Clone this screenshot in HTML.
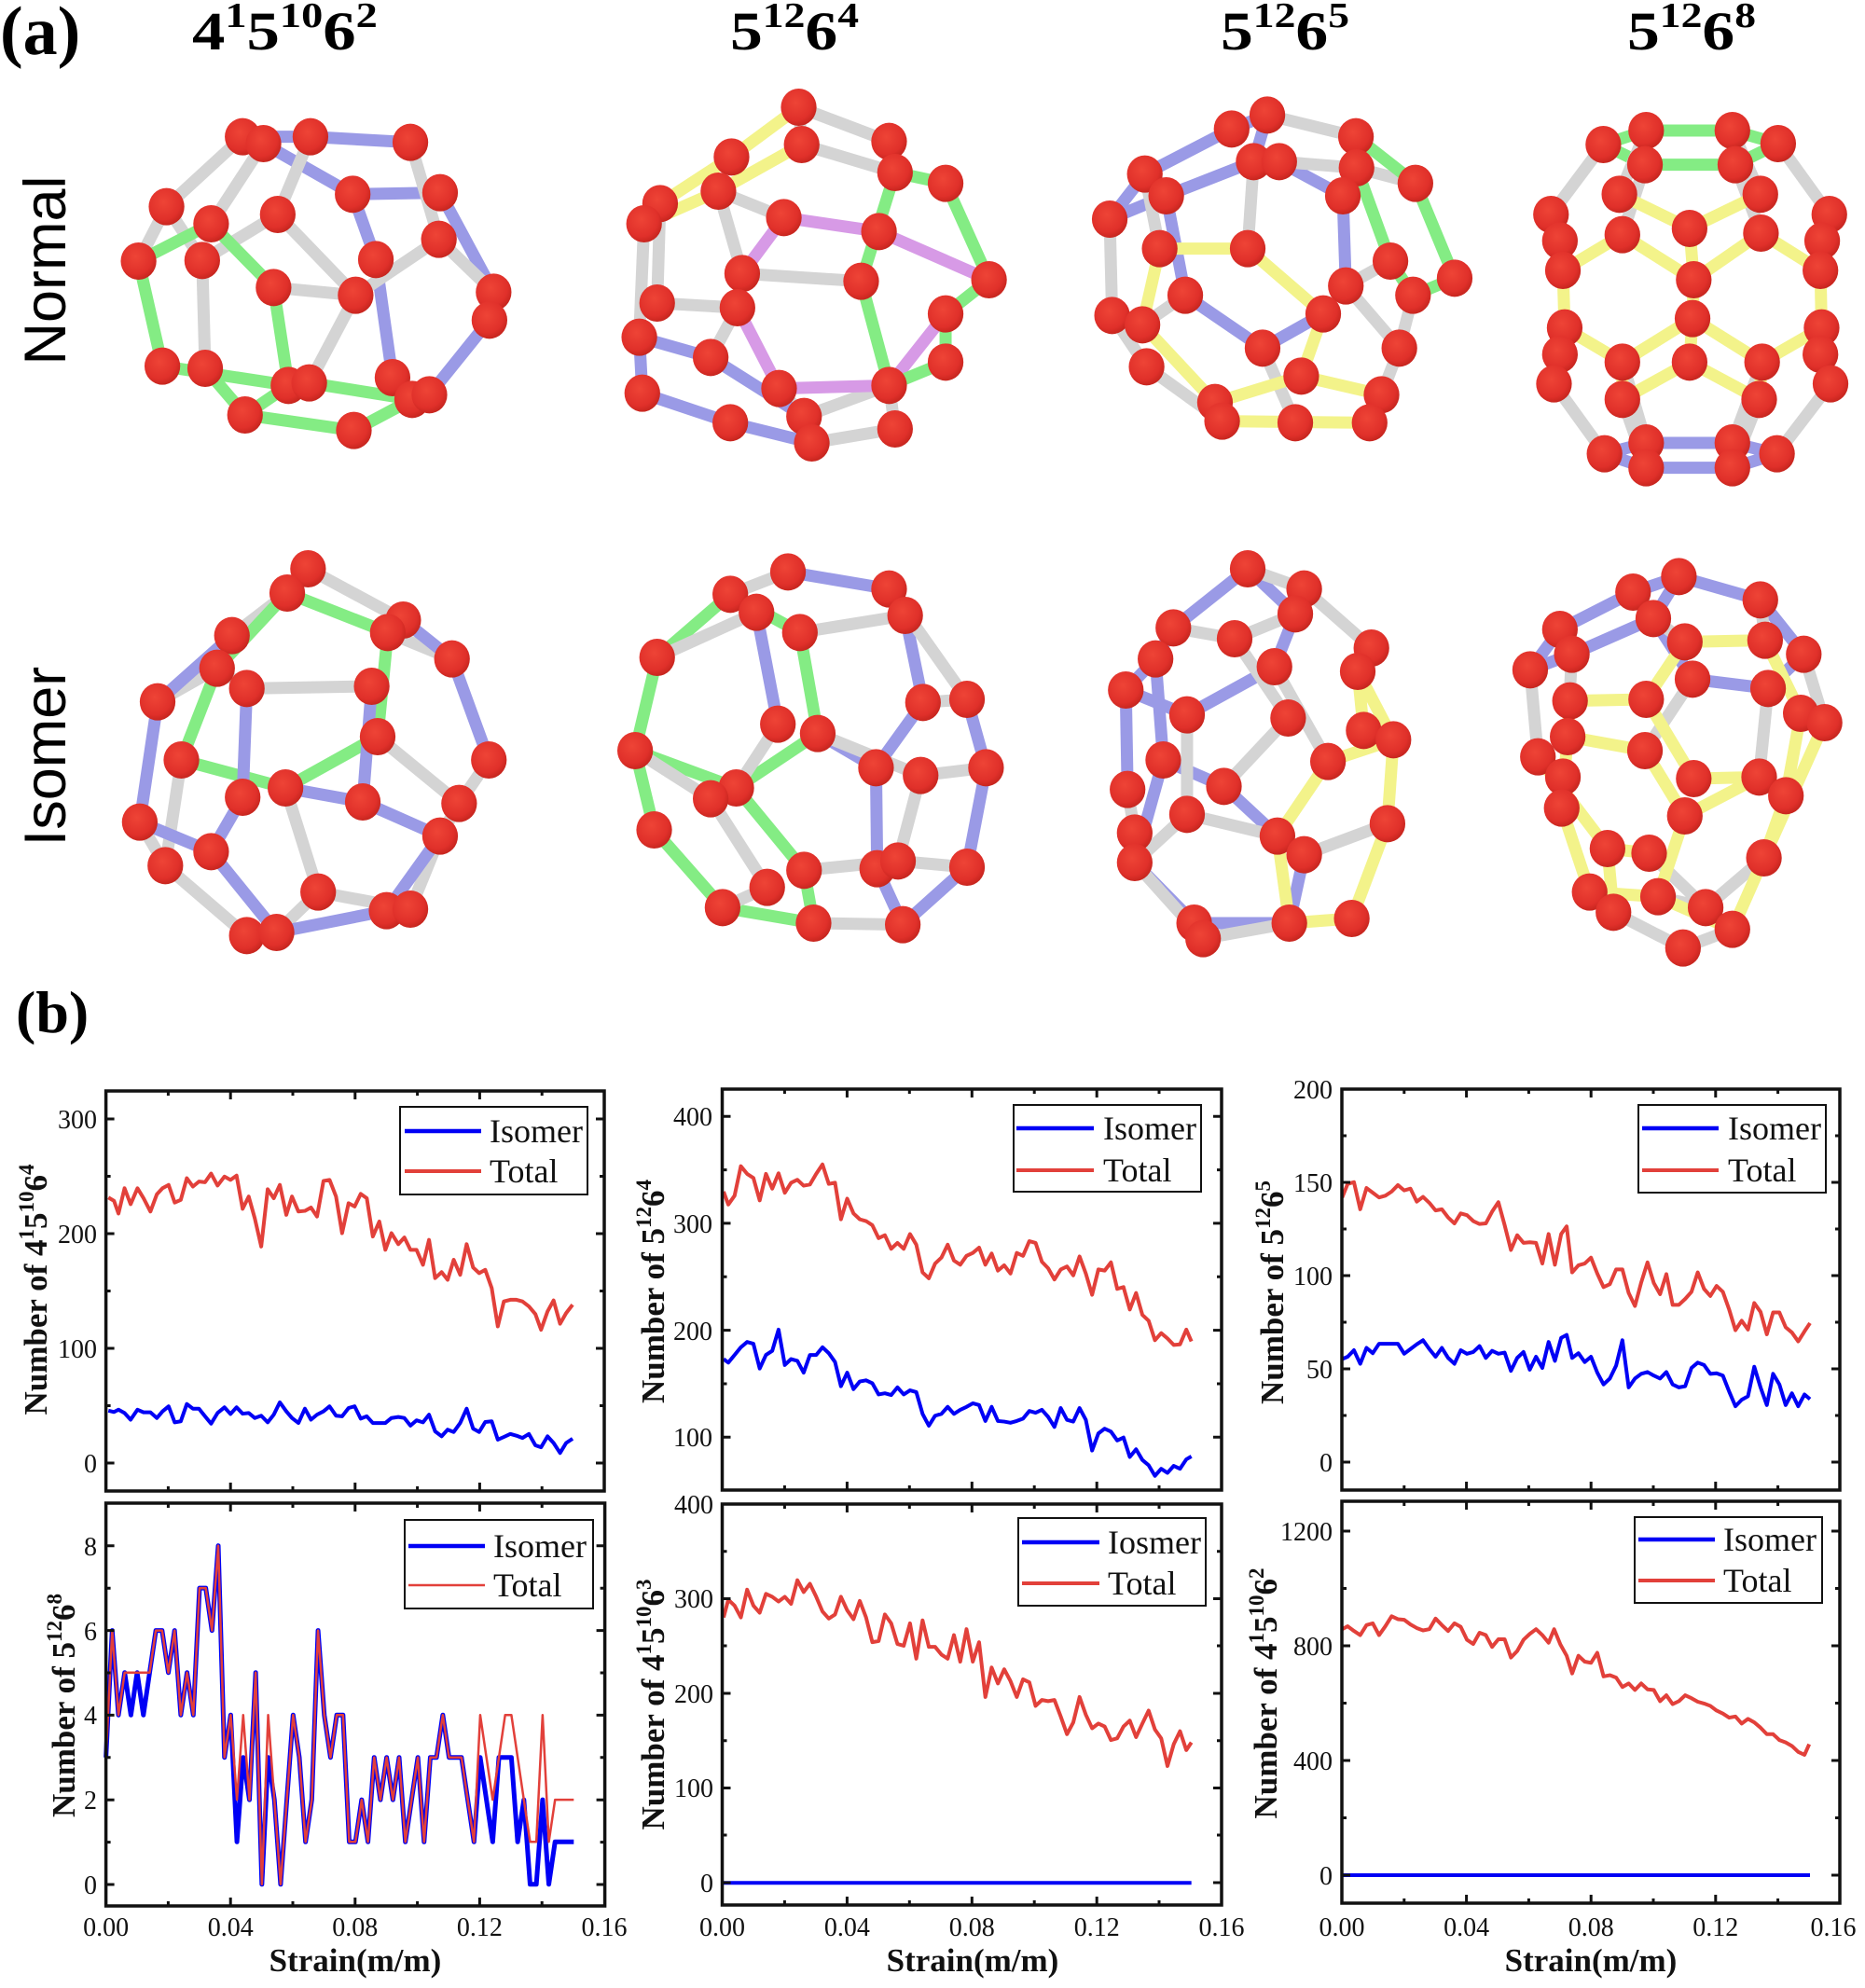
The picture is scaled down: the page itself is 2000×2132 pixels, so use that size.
<!DOCTYPE html>
<html><head><meta charset="utf-8"><style>
html,body{margin:0;padding:0;background:#fff}
svg{display:block}
.b path{fill:none;stroke-linecap:round;stroke-linejoin:round;stroke-width:13px;vector-effect:non-scaling-stroke}
.w path{stroke:#d4d4d4}.bl path{stroke:#9a9ae6}.g path{stroke:#84ec84}.y path{stroke:#f3f38a}.p path{stroke:#d79ae6}
.d polyline{fill:none;stroke-linejoin:round;vector-effect:non-scaling-stroke}
.sr{stroke:#e2403a;stroke-width:4px}.sb{stroke:#0000f5;stroke-width:4px}
.t{font-family:"Liberation Serif",serif;font-size:28px;fill:#111}
.lab{font-family:"Liberation Serif",serif;font-size:35px;font-weight:bold;fill:#111}
.leg{font-family:"Liberation Serif",serif;font-size:36px;fill:#111}
.fr{fill:none;stroke:#111;stroke-width:3.5}
.tk{fill:none;stroke:#111;stroke-width:3}
</style></head><body>
<svg width="2000" height="2132" viewBox="0 0 2000 2132" xmlns="http://www.w3.org/2000/svg">
<defs>
<radialGradient id="ag" cx="0.42" cy="0.38" r="0.62"><stop offset="0" stop-color="#ee4436"/><stop offset="0.75" stop-color="#e0302a"/><stop offset="1" stop-color="#c8261f"/></radialGradient>
<ellipse id="at" cx="0" cy="0" rx="30" ry="60" fill="url(#ag)"/>
</defs>
<rect width="2000" height="2132" fill="#fff"/>

<!-- (a) titles -->
<text x="0" y="58" font-family="Liberation Serif,serif" font-weight="bold" font-size="74">(a)</text>
<g font-family="Liberation Serif,serif" font-weight="bold" font-size="58" fill="#000">
<text transform="translate(206,53) scale(1.22,1)">4<tspan font-size="38" dy="-24">1</tspan><tspan dy="24">5</tspan><tspan font-size="38" dy="-24">10</tspan><tspan dy="24">6</tspan><tspan font-size="38" dy="-24">2</tspan></text>
<text transform="translate(783,53) scale(1.2,1)">5<tspan font-size="38" dy="-24">12</tspan><tspan dy="24">6</tspan><tspan font-size="38" dy="-24">4</tspan></text>
<text transform="translate(1309,53) scale(1.2,1)">5<tspan font-size="38" dy="-24">12</tspan><tspan dy="24">6</tspan><tspan font-size="38" dy="-24">5</tspan></text>
<text transform="translate(1745,53) scale(1.2,1)">5<tspan font-size="38" dy="-24">12</tspan><tspan dy="24">6</tspan><tspan font-size="38" dy="-24">8</tspan></text>
</g>
<text transform="translate(70,290) rotate(-90)" text-anchor="middle" font-family="Liberation Sans,sans-serif" font-size="63">Normal</text>
<text transform="translate(70,811) rotate(-90)" text-anchor="middle" font-family="Liberation Sans,sans-serif" font-size="63">Isomer</text>

<!-- Molecules row 1 left (zoom1 coords) -->
<g transform="translate(0,0) scale(0.63776,0.33333)">
<g class="b bl"><path d="M408 440L522 440M522 440L690 458M443 462L593 625M593 625L740 620M740 620L830 940M593 625L632 835M632 835L660 1215M823 1030L722 1270M660 1215L693 1285"/></g>
<g class="b w"><path d="M408 440L280 665M443 462L355 720M522 440L467 690M690 458L738 770M280 665L233 840M280 665L340 838M340 838L467 690M340 838L345 1185M467 690L598 950M460 925L598 950M738 770L598 950M738 770L830 940M598 950L520 1232M830 940L823 1030"/></g>
<g class="b g"><path d="M233 840L355 720M355 720L460 925M233 840L273 1178M460 925L485 1240M273 1178L485 1240M345 1185L412 1335M485 1240L412 1335M412 1335L595 1385M595 1385L693 1285M520 1232L693 1285"/></g>
<use href="#at" x="408" y="440"/><use href="#at" x="443" y="462"/><use href="#at" x="522" y="440"/><use href="#at" x="690" y="458"/><use href="#at" x="593" y="625"/><use href="#at" x="740" y="620"/><use href="#at" x="280" y="665"/><use href="#at" x="355" y="720"/><use href="#at" x="467" y="690"/><use href="#at" x="738" y="770"/><use href="#at" x="233" y="840"/><use href="#at" x="340" y="838"/><use href="#at" x="632" y="835"/><use href="#at" x="460" y="925"/><use href="#at" x="598" y="950"/><use href="#at" x="830" y="940"/><use href="#at" x="823" y="1030"/><use href="#at" x="273" y="1178"/><use href="#at" x="345" y="1185"/><use href="#at" x="485" y="1240"/><use href="#at" x="520" y="1232"/><use href="#at" x="660" y="1215"/><use href="#at" x="693" y="1285"/><use href="#at" x="722" y="1270"/><use href="#at" x="412" y="1335"/><use href="#at" x="595" y="1385"/>

<g class="b y"><path d="M1343 345L1230 505M1348 465L1208 615M1230 505L1110 655M1208 615L1083 720"/></g>
<g class="b w"><path d="M1343 345L1495 455M1348 465L1505 555M1343 345L1348 465M1208 615L1318 700M1208 615L1248 880M1083 720L1075 1085M1110 655L1105 975M1248 880L1448 905M1105 975L1240 990M1240 990L1195 1150M1310 1250L1352 1340M1352 1340L1495 1240M1365 1425L1505 1380M1505 1380L1495 1240M1495 455L1505 555"/></g>
<g class="b p"><path d="M1318 700L1478 745M1318 700L1248 880M1478 745L1663 900M1240 990L1310 1250M1310 1250L1495 1240M1590 1010L1495 1240"/></g>
<g class="b g"><path d="M1505 555L1590 590M1505 555L1448 905M1448 905L1495 1240M1590 590L1663 900M1590 1010L1590 1165M1495 1240L1590 1165M1663 900L1590 1010"/></g>
<g class="b bl"><path d="M1075 1085L1195 1150M1195 1150L1352 1340M1080 1265L1228 1360M1228 1360L1365 1425M1075 1085L1080 1265"/></g>
<use href="#at" x="1343" y="345"/><use href="#at" x="1348" y="465"/><use href="#at" x="1230" y="505"/><use href="#at" x="1495" y="455"/><use href="#at" x="1505" y="555"/><use href="#at" x="1208" y="615"/><use href="#at" x="1110" y="655"/><use href="#at" x="1083" y="720"/><use href="#at" x="1318" y="700"/><use href="#at" x="1478" y="745"/><use href="#at" x="1590" y="590"/><use href="#at" x="1248" y="880"/><use href="#at" x="1448" y="905"/><use href="#at" x="1105" y="975"/><use href="#at" x="1240" y="990"/><use href="#at" x="1663" y="900"/><use href="#at" x="1075" y="1085"/><use href="#at" x="1195" y="1150"/><use href="#at" x="1590" y="1010"/><use href="#at" x="1080" y="1265"/><use href="#at" x="1310" y="1250"/><use href="#at" x="1495" y="1240"/><use href="#at" x="1590" y="1165"/><use href="#at" x="1228" y="1360"/><use href="#at" x="1352" y="1340"/><use href="#at" x="1365" y="1425"/><use href="#at" x="1505" y="1380"/>
</g>

<!-- Molecules row 1 right (zoom2 coords) -->
<g transform="translate(1000,0) scale(0.63776,0.33333)">
<g class="b bl"><path d="M503 415L563 370M503 415L357 560M540 520L393 630M357 560L298 705M393 630L298 705M583 520L690 630M690 630L695 920M393 630L425 950M425 950L555 1120M555 1120L657 1010M563 370L540 520"/></g>
<g class="b w"><path d="M563 370L712 440M583 520L713 540M713 540L812 590M540 520L530 800M298 705L302 1015M302 1015L360 1180M425 950L353 1045M695 920L770 840M695 920L785 1120M808 950L785 1120M785 1120L755 1270M360 1180L487 1355M555 1120L610 1360M755 1270L735 1360M357 560L382 800"/></g>
<g class="b g"><path d="M712 440L812 590M812 590L878 895M713 540L770 840M878 895L808 950M770 840L808 950"/></g>
<g class="b y"><path d="M382 800L530 800M382 800L353 1045M530 800L657 1010M657 1010L620 1210M620 1210L755 1270M353 1045L475 1295M475 1295L620 1210M487 1355L735 1360"/></g>
<use href="#at" x="563" y="370"/><use href="#at" x="503" y="415"/><use href="#at" x="712" y="440"/><use href="#at" x="540" y="520"/><use href="#at" x="583" y="520"/><use href="#at" x="713" y="540"/><use href="#at" x="357" y="560"/><use href="#at" x="812" y="590"/><use href="#at" x="393" y="630"/><use href="#at" x="690" y="630"/><use href="#at" x="298" y="705"/><use href="#at" x="382" y="800"/><use href="#at" x="530" y="800"/><use href="#at" x="770" y="840"/><use href="#at" x="878" y="895"/><use href="#at" x="425" y="950"/><use href="#at" x="695" y="920"/><use href="#at" x="808" y="950"/><use href="#at" x="302" y="1015"/><use href="#at" x="657" y="1010"/><use href="#at" x="353" y="1045"/><use href="#at" x="555" y="1120"/><use href="#at" x="785" y="1120"/><use href="#at" x="360" y="1180"/><use href="#at" x="620" y="1210"/><use href="#at" x="475" y="1295"/><use href="#at" x="755" y="1270"/><use href="#at" x="487" y="1355"/><use href="#at" x="610" y="1360"/><use href="#at" x="735" y="1360"/>

<g class="b g"><path d="M1128 465L1200 420L1345 420L1422 462L1350 530L1198 530Z"/></g>
<g class="b w"><path d="M1128 465L1040 690M1422 462L1508 690M1198 530L1160 755M1350 530L1393 750M1200 420L1155 625M1345 420L1392 625M1045 1235L1130 1460M1510 1235L1420 1460M1160 1285L1200 1505M1390 1285L1345 1505M1160 1165L1200 1425M1395 1165L1345 1425"/></g>
<g class="b y"><path d="M1155 625L1273 735M1392 625L1273 735M1160 755L1060 870M1160 755L1280 900M1393 750L1280 900M1393 750L1493 870M1040 690L1060 870M1508 690L1493 870M1060 870L1063 1055M1280 900L1278 1025M1493 870L1495 1055M1273 735L1280 900M1063 1055L1160 1165M1278 1025L1160 1165M1278 1025L1395 1165M1495 1055L1395 1165M1063 1055L1045 1235M1495 1055L1510 1235M1160 1165L1160 1285M1273 1165L1160 1285M1273 1165L1390 1285M1395 1165L1390 1285M1278 1025L1273 1165"/></g>
<g class="b bl"><path d="M1130 1460L1200 1425L1345 1425L1420 1460L1345 1505L1200 1505Z"/></g>
<use href="#at" x="1128" y="465"/><use href="#at" x="1200" y="420"/><use href="#at" x="1345" y="420"/><use href="#at" x="1422" y="462"/><use href="#at" x="1198" y="530"/><use href="#at" x="1350" y="530"/><use href="#at" x="1155" y="625"/><use href="#at" x="1392" y="625"/><use href="#at" x="1040" y="690"/><use href="#at" x="1508" y="690"/><use href="#at" x="1055" y="775"/><use href="#at" x="1160" y="755"/><use href="#at" x="1273" y="735"/><use href="#at" x="1393" y="750"/><use href="#at" x="1496" y="775"/><use href="#at" x="1060" y="870"/><use href="#at" x="1280" y="900"/><use href="#at" x="1493" y="870"/><use href="#at" x="1063" y="1055"/><use href="#at" x="1278" y="1025"/><use href="#at" x="1495" y="1055"/><use href="#at" x="1055" y="1140"/><use href="#at" x="1160" y="1165"/><use href="#at" x="1273" y="1165"/><use href="#at" x="1395" y="1165"/><use href="#at" x="1493" y="1140"/><use href="#at" x="1045" y="1235"/><use href="#at" x="1510" y="1235"/><use href="#at" x="1160" y="1285"/><use href="#at" x="1390" y="1285"/><use href="#at" x="1130" y="1460"/><use href="#at" x="1200" y="1425"/><use href="#at" x="1345" y="1425"/><use href="#at" x="1420" y="1460"/><use href="#at" x="1200" y="1505"/><use href="#at" x="1345" y="1505"/>
</g>

<!-- Molecules row 2 left (zoom7 coords) -->
<g transform="translate(0,560) scale(0.63776,0.33333)">
<g class="b w"><path d="M518 150L678 315M518 150L483 228M483 228L390 365M652 355L760 440M415 535L625 528M365 470L265 578M635 690L772 905M822 765L772 905M772 905L740 1010M740 1010L690 1245M305 765L278 1105M235 965L278 1105M278 1105L415 1330M480 855L535 1190M535 1190L465 1320M535 1190L690 1245M365 470L415 535"/></g>
<g class="b g"><path d="M483 228L652 355M483 228L365 470M365 470L305 765M652 355L635 690M305 765L480 855M635 690L480 855"/></g>
<g class="b bl"><path d="M760 440L822 765M678 315L760 440M390 365L265 578M265 578L235 965M415 535L408 885M408 885L355 1060M625 528L610 900M480 855L610 900M610 900L740 1010M235 965L355 1060M355 1060L465 1320M465 1320L650 1250M740 1010L650 1250"/></g>
<use href="#at" x="518" y="150"/><use href="#at" x="483" y="228"/><use href="#at" x="678" y="315"/><use href="#at" x="652" y="355"/><use href="#at" x="390" y="365"/><use href="#at" x="760" y="440"/><use href="#at" x="365" y="470"/><use href="#at" x="415" y="535"/><use href="#at" x="625" y="528"/><use href="#at" x="265" y="578"/><use href="#at" x="635" y="690"/><use href="#at" x="305" y="765"/><use href="#at" x="822" y="765"/><use href="#at" x="480" y="855"/><use href="#at" x="408" y="885"/><use href="#at" x="610" y="900"/><use href="#at" x="772" y="905"/><use href="#at" x="235" y="965"/><use href="#at" x="740" y="1010"/><use href="#at" x="355" y="1060"/><use href="#at" x="278" y="1105"/><use href="#at" x="535" y="1190"/><use href="#at" x="650" y="1250"/><use href="#at" x="690" y="1245"/><use href="#at" x="415" y="1330"/><use href="#at" x="465" y="1320"/>

<g class="b bl"><path d="M1325 160L1495 215M1272 290L1308 650M1522 300L1552 580M1552 580L1473 790M1473 790L1475 1115M1375 680L1473 790M1475 1115L1518 1295M1626 570L1658 790M1658 790L1626 1110M1626 1110L1518 1295"/></g>
<g class="b g"><path d="M1228 232L1345 355M1228 232L1105 435M1345 355L1375 680M1105 435L1068 735M1068 735L1238 855M1375 680L1238 855M1068 735L1100 990M1100 990L1215 1240M1238 855L1352 1120M1352 1120L1368 1290M1215 1240L1368 1290"/></g>
<g class="b w"><path d="M1325 160L1228 232M1345 355L1522 300M1495 215L1522 300M1272 290L1105 435M1068 735L1195 890M1195 890L1290 1175M1308 650L1238 855M1375 680L1548 815M1548 815L1510 1090M1352 1120L1510 1090M1368 1290L1518 1295M1290 1175L1215 1240M1548 815L1658 790M1510 1090L1626 1110M1552 580L1626 570M1495 215L1626 570"/></g>
<use href="#at" x="1325" y="160"/><use href="#at" x="1228" y="232"/><use href="#at" x="1272" y="290"/><use href="#at" x="1495" y="215"/><use href="#at" x="1345" y="355"/><use href="#at" x="1522" y="300"/><use href="#at" x="1105" y="435"/><use href="#at" x="1552" y="580"/><use href="#at" x="1308" y="650"/><use href="#at" x="1375" y="680"/><use href="#at" x="1068" y="735"/><use href="#at" x="1473" y="790"/><use href="#at" x="1548" y="815"/><use href="#at" x="1238" y="855"/><use href="#at" x="1195" y="890"/><use href="#at" x="1100" y="990"/><use href="#at" x="1352" y="1120"/><use href="#at" x="1475" y="1115"/><use href="#at" x="1510" y="1090"/><use href="#at" x="1290" y="1175"/><use href="#at" x="1215" y="1240"/><use href="#at" x="1368" y="1290"/><use href="#at" x="1518" y="1295"/><use href="#at" x="1626" y="570"/><use href="#at" x="1658" y="790"/><use href="#at" x="1626" y="1110"/>
</g>

<!-- Molecules row 2 right (zoom8 coords) -->
<g transform="translate(1000,560) scale(0.63776,0.33333)">
<g class="b bl"><path d="M530 150L405 340M530 150L610 295M610 295L575 465M405 340L375 440M375 440L325 540M325 540L428 620M575 465L428 620M325 540L328 860M375 440L388 765M388 765L340 1095M388 765L490 850M490 850L580 1010M625 1070L600 1290M340 1095L440 1290M440 1290L600 1290"/></g>
<g class="b w"><path d="M530 150L625 215M625 215L738 405M610 295L508 375M508 375L405 340M508 375L598 630M575 465L665 770M428 620L428 940M598 630L490 850M428 940L580 1010M428 940L340 1095M625 1070L765 970M328 860L340 1000M340 1095L455 1340M455 1340L600 1290"/></g>
<g class="b y"><path d="M738 405L715 480M715 480L775 700M715 480L725 670M775 700L665 770M775 700L765 970M665 770L580 1010M580 1010L600 1290M765 970L705 1275M600 1290L705 1275M725 670L775 700"/></g>
<use href="#at" x="530" y="150"/><use href="#at" x="625" y="215"/><use href="#at" x="610" y="295"/><use href="#at" x="405" y="340"/><use href="#at" x="508" y="375"/><use href="#at" x="738" y="405"/><use href="#at" x="375" y="440"/><use href="#at" x="575" y="465"/><use href="#at" x="715" y="480"/><use href="#at" x="325" y="540"/><use href="#at" x="428" y="620"/><use href="#at" x="598" y="630"/><use href="#at" x="725" y="670"/><use href="#at" x="775" y="700"/><use href="#at" x="388" y="765"/><use href="#at" x="665" y="770"/><use href="#at" x="490" y="850"/><use href="#at" x="328" y="860"/><use href="#at" x="428" y="940"/><use href="#at" x="765" y="970"/><use href="#at" x="580" y="1010"/><use href="#at" x="340" y="1000"/><use href="#at" x="625" y="1070"/><use href="#at" x="340" y="1095"/><use href="#at" x="440" y="1290"/><use href="#at" x="600" y="1290"/><use href="#at" x="705" y="1275"/><use href="#at" x="455" y="1340"/>

<g class="b bl"><path d="M1255 175L1178 225M1255 175L1392 250M1178 225L1055 345M1255 175L1212 310M1212 310L1075 425M1055 345L1005 475M1075 425L1005 475M1392 250L1465 425M1212 310L1278 505M1278 505L1405 535M1405 535L1465 425"/></g>
<g class="b w"><path d="M1005 475L1018 755M1075 425L1068 690M1265 385L1212 310M1400 380L1392 250M1465 425L1500 645M1278 505L1198 735M1405 535L1390 820M1398 1080L1300 1240M1145 1255L1262 1370M1262 1370L1345 1310M1220 1205L1300 1240M1205 1065L1300 1240"/></g>
<g class="b y"><path d="M1265 385L1400 380M1265 385L1200 570M1400 380L1460 615M1072 575L1200 570M1068 690L1198 735M1200 570L1280 825M1198 735L1265 945M1280 825L1390 820M1390 820L1265 945M1460 615L1435 880M1500 645L1398 1080M1435 880L1398 1080M1018 755L1060 820M1060 820L1058 920M1068 690L1058 920M1058 920L1105 1190M1018 755L1135 1050M1135 1050L1205 1065M1265 945L1220 1205M1135 1050L1145 1255M1105 1190L1220 1205M1220 1205L1345 1310M1398 1080L1345 1310M1072 575L1068 690"/></g>
<use href="#at" x="1255" y="175"/><use href="#at" x="1178" y="225"/><use href="#at" x="1392" y="250"/><use href="#at" x="1212" y="310"/><use href="#at" x="1055" y="345"/><use href="#at" x="1265" y="385"/><use href="#at" x="1400" y="380"/><use href="#at" x="1075" y="425"/><use href="#at" x="1465" y="425"/><use href="#at" x="1005" y="475"/><use href="#at" x="1278" y="505"/><use href="#at" x="1405" y="535"/><use href="#at" x="1072" y="575"/><use href="#at" x="1200" y="570"/><use href="#at" x="1460" y="615"/><use href="#at" x="1500" y="645"/><use href="#at" x="1068" y="690"/><use href="#at" x="1198" y="735"/><use href="#at" x="1018" y="755"/><use href="#at" x="1280" y="825"/><use href="#at" x="1390" y="820"/><use href="#at" x="1060" y="820"/><use href="#at" x="1435" y="880"/><use href="#at" x="1058" y="920"/><use href="#at" x="1265" y="945"/><use href="#at" x="1135" y="1050"/><use href="#at" x="1205" y="1065"/><use href="#at" x="1398" y="1080"/><use href="#at" x="1105" y="1190"/><use href="#at" x="1220" y="1205"/><use href="#at" x="1145" y="1255"/><use href="#at" x="1300" y="1240"/><use href="#at" x="1345" y="1310"/><use href="#at" x="1262" y="1370"/>
</g>

<!-- (b) -->
<text x="17" y="1107" font-family="Liberation Serif,serif" font-weight="bold" font-size="64">(b)</text>

<!-- ===== Panel LT ===== -->
<g class="d" transform="translate(0,1060) scale(0.43365,0.35714)">
<polyline class="sr" points="268,628 282,638 293,676 308,600 323,648 340,600 355,630 372,670 388,618 402,600 417,590 432,643 447,635 462,570 477,595 492,580 507,582 522,556 538,592 555,565 570,575 585,562 600,662 615,625 630,690 646,775 662,603 677,630 692,590 708,680 722,625 738,670 754,668 769,658 784,685 800,578 815,575 831,625 846,735 862,645 877,655 892,617 907,630 922,745 938,700 953,785 968,735 985,768 1000,748 1015,785 1030,785 1046,830 1061,755 1076,870 1092,852 1107,875 1122,815 1138,860 1154,768 1170,838 1185,855 1200,845 1216,900 1231,1015 1246,940 1262,935 1277,935 1292,940 1308,955 1324,978 1338,1025 1354,970 1369,937 1385,1007 1400,975 1416,950"/>
<polyline class="sb" points="268,1268 282,1272 293,1265 308,1275 323,1295 340,1265 355,1273 372,1273 388,1290 402,1270 417,1255 432,1303 447,1300 462,1248 477,1262 492,1262 507,1285 522,1307 538,1275 555,1258 570,1278 585,1258 600,1277 615,1275 630,1290 646,1283 662,1303 677,1280 692,1243 708,1270 722,1290 738,1305 754,1262 769,1295 784,1280 800,1270 815,1255 831,1283 846,1285 862,1260 877,1255 892,1292 907,1285 922,1305 938,1305 953,1305 968,1290 985,1287 1000,1290 1015,1313 1030,1297 1046,1303 1061,1280 1076,1330 1092,1345 1107,1325 1122,1332 1138,1305 1154,1262 1170,1322 1185,1332 1200,1302 1216,1300 1231,1355 1246,1347 1262,1338 1277,1343 1292,1350 1308,1338 1324,1372 1338,1378 1354,1345 1369,1365 1385,1395 1400,1365 1416,1352"/>
</g>
<rect class="fr" x="113.6" y="1170" width="534.4" height="429"/>
<path class="tk" d="M247.2 1599v-9M380.8 1599v-9M514.4 1599v-9M180.4 1599v-5M314 1599v-5M447.6 1599v-5M581.2 1599v-5M247.2 1170v9M380.8 1170v9M514.4 1170v9M180.4 1170v5M314 1170v5M447.6 1170v5M581.2 1170v5M113.6 1569h9M113.6 1446h9M113.6 1323h9M113.6 1200h9M113.6 1507.5h5M113.6 1384.5h5M113.6 1261.5h5M648 1569h-9M648 1446h-9M648 1323h-9M648 1200h-9M648 1507.5h-5M648 1384.5h-5M648 1261.5h-5"/>
<g class="t" text-anchor="end"><text x="104" y="1579">0</text><text x="104" y="1456">100</text><text x="104" y="1333">200</text><text x="104" y="1210">300</text></g>
<text class="lab" transform="translate(50,1383) rotate(-90)" text-anchor="middle">Number of 4<tspan font-size="23" dy="-14">1</tspan><tspan dy="14">5</tspan><tspan font-size="23" dy="-14">10</tspan><tspan dy="14">6</tspan><tspan font-size="23" dy="-14">4</tspan></text>
<rect x="429" y="1187" width="201" height="94" fill="#fff" stroke="#111" stroke-width="2"/>
<path d="M434 1213H516" stroke="#0000f5" stroke-width="4.5"/><path d="M434 1256H516" stroke="#e2403a" stroke-width="4"/>
<text class="leg" x="525" y="1225">Isomer</text><text class="leg" x="525" y="1268">Total</text>

<!-- ===== Panel LB ===== -->
<g class="d" transform="translate(0,1600) scale(0.43365,0.33933)">
<polyline stroke="#0000f5" stroke-width="5" points="262,839 277.4,438 292.9,705 308.3,571 323.7,705 339.1,571 354.6,705 370,571 385.4,438 400.8,438 416.3,571 431.7,438 447.1,705 462.5,571 478,705 493.4,304 508.8,304 524.2,438 539.7,170 555.1,839 570.5,705 585.9,1106 601.4,839 616.8,973 632.2,571 647.6,1240 663.1,839 678.5,973 693.9,1240 709.3,973 724.8,705 740.2,839 755.6,1106 771,973 786.5,438 801.9,705 817.3,839 832.7,705 848.2,705 863.6,1106 879,1106 894.4,973 909.9,1106 925.3,839 940.7,973 956.1,839 971.6,973 987,839 1002.4,1106 1017.8,973 1033.3,839 1048.7,1106 1064.1,839 1079.5,839 1095,705 1110.4,839 1125.8,839 1141.2,839 1156.7,973 1172.1,1106 1187.5,839 1202.9,973 1218.4,1106 1233.8,839 1249.2,839 1264.6,839 1280.1,1106 1295.5,973 1310.9,1240 1326.3,1240 1341.8,973 1357.2,1240 1372.6,1106 1388,1106 1403.5,1106 1418.9,1106"/>
<polyline stroke="#e2403a" stroke-width="2.5" points="262,839 277.4,438 292.9,705 308.3,571 323.7,571 339.1,571 354.6,571 370,571 385.4,438 400.8,438 416.3,571 431.7,438 447.1,705 462.5,571 478,705 493.4,304 508.8,304 524.2,438 539.7,170 555.1,839 570.5,705 585.9,973 601.4,705 616.8,973 632.2,571 647.6,1240 663.1,705 678.5,973 693.9,1240 709.3,973 724.8,705 740.2,839 755.6,1106 771,973 786.5,438 801.9,705 817.3,839 832.7,705 848.2,705 863.6,1106 879,1106 894.4,973 909.9,1106 925.3,839 940.7,973 956.1,839 971.6,973 987,839 1002.4,1106 1017.8,973 1033.3,839 1048.7,1106 1064.1,839 1079.5,839 1095,705 1110.4,839 1125.8,839 1141.2,839 1156.7,973 1172.1,1106 1187.5,705 1202.9,839 1218.4,973 1233.8,839 1249.2,705 1264.6,705 1280.1,839 1295.5,973 1310.9,1106 1326.3,1106 1341.8,705 1357.2,1106 1372.6,973 1388,973 1403.5,973 1418.9,973"/>
</g>
<rect class="fr" x="113.6" y="1612" width="535" height="432"/>
<path class="tk" d="M247.2 2044v-9M380.8 2044v-9M514.4 2044v-9M180.4 2044v-5M314 2044v-5M447.6 2044v-5M581.2 2044v-5M247.2 1612v9M380.8 1612v9M514.4 1612v9M180.4 1612v5M314 1612v5M447.6 1612v5M581.2 1612v5M113.6 2021h9M113.6 1930.2h9M113.6 1839.4h9M113.6 1748.6h9M113.6 1657.8h9M113.6 1975.6h5M113.6 1884.8h5M113.6 1794h5M113.6 1703.2h5M648.6 2021h-9M648.6 1930.2h-9M648.6 1839.4h-9M648.6 1748.6h-9M648.6 1657.8h-9M648.6 1975.6h-5M648.6 1884.8h-5M648.6 1794h-5M648.6 1703.2h-5"/>
<g class="t" text-anchor="end"><text x="104" y="2031">0</text><text x="104" y="1940">2</text><text x="104" y="1849">4</text><text x="104" y="1759">6</text><text x="104" y="1668">8</text></g>
<g class="t" text-anchor="middle"><text x="113.6" y="2076">0.00</text><text x="247.2" y="2076">0.04</text><text x="380.8" y="2076">0.08</text><text x="514.4" y="2076">0.12</text><text x="648" y="2076">0.16</text></g>
<text class="lab" x="381" y="2114" text-anchor="middle">Strain(m/m)</text>
<text class="lab" transform="translate(80,1829) rotate(-90)" text-anchor="middle">Number of 5<tspan font-size="23" dy="-14">12</tspan><tspan dy="14">6</tspan><tspan font-size="23" dy="-14">8</tspan></text>
<rect x="434" y="1630" width="202" height="95" fill="#fff" stroke="#111" stroke-width="2"/>
<path d="M438 1658H520" stroke="#0000f5" stroke-width="4.5"/><path d="M438 1700H520" stroke="#e2403a" stroke-width="2.5"/>
<text class="leg" x="529" y="1670">Isomer</text><text class="leg" x="529" y="1712">Total</text>

<!-- ===== Panel MT ===== -->
<g class="d" transform="translate(680,1140) scale(0.42088,0.63251)">
<polyline class="sr" points="228,218 240,240 256,225 272,175 288,188 304,195 320,233 336,188 352,213 368,187 384,220 400,203 416,198 432,208 448,206 464,188 480,172 496,205 512,203 527,265 543,230 559,255 575,265 591,268 607,275 623,297 639,292 655,315 671,305 687,315 703,290 719,308 735,355 751,365 767,340 783,330 799,308 815,335 831,342 847,327 863,322 879,313 895,342 911,323 927,352 943,343 959,357 975,322 991,327 1007,302 1023,305 1039,337 1055,348 1071,367 1087,350 1103,345 1119,360 1135,328 1151,357 1167,393 1183,350 1199,352 1215,338 1231,383 1247,380 1263,418 1279,390 1295,427 1311,437 1327,470 1343,458 1359,467 1375,478 1391,477 1407,452 1420,472"/>
<polyline class="sb" points="228,502 240,508 256,495 272,482 288,473 304,476 320,518 336,495 352,488 368,452 384,512 400,502 416,505 432,525 448,495 464,495 480,482 496,492 512,507 527,548 543,525 559,553 575,540 591,538 607,543 623,562 639,560 655,563 671,550 687,562 703,555 719,558 735,595 751,615 767,598 783,595 799,583 815,595 831,588 847,583 863,577 879,580 895,607 911,583 927,607 943,608 959,610 975,607 991,603 1007,590 1023,593 1039,588 1055,600 1071,617 1087,585 1103,605 1119,608 1135,585 1151,605 1167,657 1183,628 1199,620 1215,625 1231,640 1247,635 1263,668 1279,655 1295,673 1311,682 1327,700 1343,688 1359,695 1375,683 1391,688 1407,672 1420,667"/>
</g>
<rect class="fr" x="774.5" y="1168" width="535.5" height="430"/>
<path class="tk" d="M908.4 1598v-9M1042.3 1598v-9M1176.2 1598v-9M841.4 1598v-5M975.3 1598v-5M1109.2 1598v-5M1243 1598v-5M908.4 1168v9M1042.3 1168v9M1176.2 1168v9M841.4 1168v5M975.3 1168v5M1109.2 1168v5M1243 1168v5M774.5 1541.3h9M774.5 1426.6h9M774.5 1311.9h9M774.5 1197.2h9M774.5 1484h5M774.5 1369.3h5M774.5 1254.6h5M1310 1541.3h-9M1310 1426.6h-9M1310 1311.9h-9M1310 1197.2h-9M1310 1484h-5M1310 1369.3h-5M1310 1254.6h-5"/>
<g class="t" text-anchor="end"><text x="764" y="1551">100</text><text x="764" y="1437">200</text><text x="764" y="1322">300</text><text x="764" y="1207">400</text></g>
<text class="lab" transform="translate(712,1385) rotate(-90)" text-anchor="middle">Number of 5<tspan font-size="23" dy="-14">12</tspan><tspan dy="14">6</tspan><tspan font-size="23" dy="-14">4</tspan></text>
<rect x="1087" y="1185" width="201" height="93" fill="#fff" stroke="#111" stroke-width="2"/>
<path d="M1090 1210H1173" stroke="#0000f5" stroke-width="4.5"/><path d="M1090 1255H1173" stroke="#e2403a" stroke-width="4"/>
<text class="leg" x="1183" y="1222">Isomer</text><text class="leg" x="1183" y="1267">Total</text>

<!-- ===== Panel MB ===== -->
<g class="d" transform="translate(680,1140) scale(0.42088,0.63251)">
<polyline class="sr" points="228,940 240,910 256,920 272,940 288,893 304,920 320,932 336,900 352,905 368,913 384,905 400,917 416,877 432,897 448,883 464,905 480,930 496,942 512,935 527,905 543,928 559,943 575,912 591,940 607,982 623,980 639,935 655,950 671,985 687,988 703,950 719,1010 735,945 751,990 767,990 783,1003 799,1010 815,970 831,1015 847,960 863,1015 879,982 895,1075 911,1025 927,1052 943,1028 959,1048 975,1075 991,1045 1007,1050 1023,1090 1039,1080 1055,1082 1071,1080 1087,1108 1103,1138 1119,1118 1135,1075 1151,1105 1167,1128 1183,1120 1199,1125 1215,1148 1231,1145 1247,1125 1263,1115 1279,1143 1295,1120 1311,1098 1327,1130 1343,1145 1359,1192 1375,1155 1391,1133 1407,1165 1420,1152"/>
<polyline class="sb" points="228,1390 1420,1390"/>
</g>
<rect class="fr" x="774.5" y="1613" width="535.5" height="430"/>
<path class="tk" d="M908.4 2043v-9M1042.3 2043v-9M1176.2 2043v-9M841.4 2043v-5M975.3 2043v-5M1109.2 2043v-5M1243 2043v-5M908.4 1613v9M1042.3 1613v9M1176.2 1613v9M841.4 1613v5M975.3 1613v5M1109.2 1613v5M1243 1613v5M774.5 2019h9M774.5 1917.5h9M774.5 1816h9M774.5 1714.5h9M774.5 1968h5M774.5 1866.8h5M774.5 1765h5M774.5 1663.8h5M1310 2019h-9M1310 1917.5h-9M1310 1816h-9M1310 1714.5h-9M1310 1968h-5M1310 1866.8h-5M1310 1765h-5M1310 1663.8h-5"/>
<g class="t" text-anchor="end"><text x="765" y="2029">0</text><text x="765" y="1927">100</text><text x="765" y="1826">200</text><text x="765" y="1724">300</text><text x="765" y="1623">400</text></g>
<g class="t" text-anchor="middle"><text x="774.5" y="2076">0.00</text><text x="908.4" y="2076">0.04</text><text x="1042.3" y="2076">0.08</text><text x="1176.2" y="2076">0.12</text><text x="1310" y="2076">0.16</text></g>
<text class="lab" x="1043" y="2114" text-anchor="middle">Strain(m/m)</text>
<text class="lab" transform="translate(712,1828) rotate(-90)" text-anchor="middle">Number of 4<tspan font-size="23" dy="-14">1</tspan><tspan dy="14">5</tspan><tspan font-size="23" dy="-14">10</tspan><tspan dy="14">6</tspan><tspan font-size="23" dy="-14">3</tspan></text>
<rect x="1092" y="1628" width="201" height="94" fill="#fff" stroke="#111" stroke-width="2"/>
<path d="M1096 1654H1179" stroke="#0000f5" stroke-width="4.5"/><path d="M1096 1698H1179" stroke="#e2403a" stroke-width="4"/>
<text class="leg" x="1188" y="1666">Iosmer</text><text class="leg" x="1188" y="1710">Total</text>

<!-- ===== Panel RT ===== -->
<g class="d" transform="translate(1340,1140) scale(0.42088,0.63251)">
<polyline class="sr" points="236,228 250,205 266,202 282,248 298,212 314,220 330,228 346,225 362,218 378,207 394,216 410,213 426,235 442,227 458,237 474,250 490,248 506,262 522,272 538,255 554,258 570,268 586,273 602,272 618,252 634,236 650,275 666,317 682,292 698,305 714,304 730,305 746,340 762,290 778,342 794,290 808,277 822,355 838,343 854,340 870,330 886,357 902,380 918,375 934,350 950,350 966,390 982,412 998,372 1014,338 1030,373 1046,392 1062,358 1078,410 1094,410 1110,400 1126,388 1142,355 1158,383 1174,395 1190,378 1206,388 1222,418 1238,453 1254,437 1270,452 1286,407 1302,422 1318,460 1334,423 1350,423 1366,448 1382,457 1398,472 1414,455 1428,441"/>
<polyline class="sb" points="236,502 250,498 266,487 282,510 298,483 314,492 330,476 346,476 362,476 378,476 394,493 410,485 426,477 442,470 458,485 474,498 490,483 506,500 522,510 538,487 554,493 570,490 586,480 602,500 618,488 634,493 650,491 666,522 682,500 698,490 714,520 730,498 746,517 762,473 778,505 794,466 808,461 822,500 838,492 854,507 870,498 886,525 902,545 918,535 934,513 950,470 966,550 982,535 998,527 1014,524 1030,530 1046,535 1062,524 1078,545 1094,550 1110,548 1126,517 1142,508 1158,512 1174,527 1190,526 1206,530 1222,557 1238,582 1254,571 1270,565 1286,515 1302,550 1318,580 1334,527 1350,545 1366,580 1382,560 1398,582 1414,562 1428,570"/>
</g>
<rect class="fr" x="1439" y="1168" width="534" height="430"/>
<path class="tk" d="M1572.6 1598v-9M1706.2 1598v-9M1839.8 1598v-9M1505.8 1598v-5M1639.4 1598v-5M1773 1598v-5M1906.6 1598v-5M1572.6 1168v9M1706.2 1168v9M1839.8 1168v9M1505.8 1168v5M1639.4 1168v5M1773 1168v5M1906.6 1168v5M1439 1568h9M1439 1468h9M1439 1368h9M1439 1268h9M1439 1518h5M1439 1418h5M1439 1318h5M1439 1218h5M1973 1568h-9M1973 1468h-9M1973 1368h-9M1973 1268h-9M1973 1518h-5M1973 1418h-5M1973 1318h-5M1973 1218h-5"/>
<g class="t" text-anchor="end"><text x="1429" y="1578">0</text><text x="1429" y="1478">50</text><text x="1429" y="1378">100</text><text x="1429" y="1278">150</text><text x="1429" y="1178">200</text></g>
<text class="lab" transform="translate(1376,1386) rotate(-90)" text-anchor="middle">Number of 5<tspan font-size="23" dy="-14">12</tspan><tspan dy="14">6</tspan><tspan font-size="23" dy="-14">5</tspan></text>
<rect x="1757" y="1185" width="201" height="94" fill="#fff" stroke="#111" stroke-width="2"/>
<path d="M1761 1210H1843" stroke="#0000f5" stroke-width="4.5"/><path d="M1761 1255H1843" stroke="#e2403a" stroke-width="4"/>
<text class="leg" x="1853" y="1222">Isomer</text><text class="leg" x="1853" y="1267">Total</text>

<!-- ===== Panel RB ===== -->
<g class="d" transform="translate(1340,1140) scale(0.42088,0.63251)">
<polyline class="sr" points="236,960 250,955 266,963 282,970 298,953 314,950 330,970 346,955 362,938 378,943 394,944 410,952 426,958 442,962 458,960 474,942 490,953 506,963 522,950 538,956 554,978 570,985 586,966 602,970 618,990 634,977 650,977 666,1008 682,997 698,978 714,968 730,960 746,970 762,983 776,960 792,986 808,1005 822,1035 838,1005 854,1015 870,1017 886,1000 902,1040 918,1038 934,1042 950,1058 966,1052 982,1063 998,1052 1014,1062 1030,1063 1046,1082 1062,1072 1078,1087 1094,1082 1110,1072 1126,1077 1142,1083 1158,1086 1174,1090 1190,1098 1206,1103 1222,1110 1238,1108 1254,1120 1270,1112 1286,1118 1302,1127 1318,1138 1334,1138 1350,1148 1366,1152 1382,1158 1398,1168 1414,1173 1426,1155"/>
<polyline class="sb" points="236,1377 1428,1377"/>
</g>
<rect class="fr" x="1439" y="1610" width="534" height="431"/>
<path class="tk" d="M1572.6 2041v-9M1706.2 2041v-9M1839.8 2041v-9M1505.8 2041v-5M1639.4 2041v-5M1773 2041v-5M1906.6 2041v-5M1572.6 1610v9M1706.2 1610v9M1839.8 1610v9M1505.8 1610v5M1639.4 1610v5M1773 1610v5M1906.6 1610v5M1439 2011h9M1439 1888h9M1439 1765h9M1439 1642h9M1439 1949.5h5M1439 1826.5h5M1439 1703.5h5M1973 2011h-9M1973 1888h-9M1973 1765h-9M1973 1642h-9M1973 1949.5h-5M1973 1826.5h-5M1973 1703.5h-5"/>
<g class="t" text-anchor="end"><text x="1429" y="2021">0</text><text x="1429" y="1898">400</text><text x="1429" y="1775">800</text><text x="1429" y="1652">1200</text></g>
<g class="t" text-anchor="middle"><text x="1439" y="2076">0.00</text><text x="1572.6" y="2076">0.04</text><text x="1706.2" y="2076">0.08</text><text x="1839.8" y="2076">0.12</text><text x="1966" y="2076">0.16</text></g>
<text class="lab" x="1706" y="2114" text-anchor="middle">Strain(m/m)</text>
<text class="lab" transform="translate(1369,1816) rotate(-90)" text-anchor="middle">Number of 4<tspan font-size="23" dy="-14">1</tspan><tspan dy="14">5</tspan><tspan font-size="23" dy="-14">10</tspan><tspan dy="14">6</tspan><tspan font-size="23" dy="-14">2</tspan></text>
<rect x="1753" y="1627" width="201" height="92" fill="#fff" stroke="#111" stroke-width="2"/>
<path d="M1757 1651H1839" stroke="#0000f5" stroke-width="4.5"/><path d="M1757 1695H1839" stroke="#e2403a" stroke-width="4"/>
<text class="leg" x="1848" y="1663">Isomer</text><text class="leg" x="1848" y="1707">Total</text>
</svg>
</body></html>
